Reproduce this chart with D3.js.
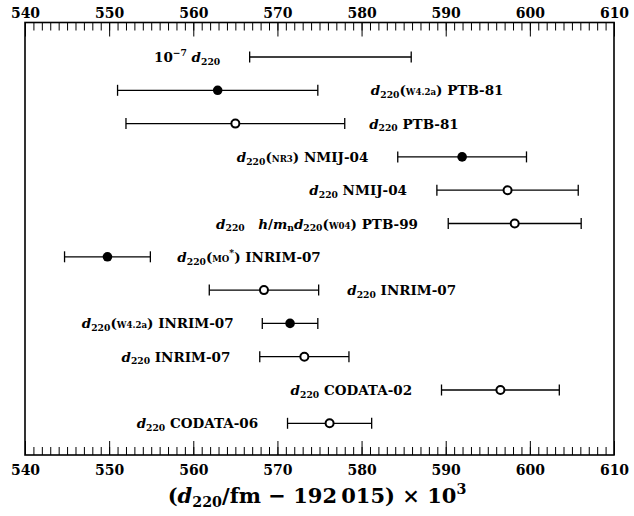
<!DOCTYPE html>
<html>
<head>
<meta charset="utf-8">
<script src="https://cdn.jsdelivr.net/npm/d3@7/dist/d3.min.js"></script>
<style>
  html, body { margin: 0; padding: 0; background: #fff; }
  svg text { font-family: "DejaVu Serif", "Liberation Serif", serif; font-weight: bold; fill: #000; }
</style>
</head>
<body>
<svg id="chart" width="634" height="516"></svg>
<script>
// ---- data ----
const labels = [
  "10^{−7} ~d~_{220}",
  "~d~_{220}(<W4.2a>) PTB-81",
  "~d~_{220} PTB-81",
  "~d~_{220}(<NR3>) NMIJ-04",
  "~d~_{220} NMIJ-04",
  "~d~_{220}\u2003~h~/~m~_{n}~d~_{220}(<W04>) PTB-99",
  "~d~_{220}(<MO^{*}>) INRIM-07",
  "~d~_{220} INRIM-07",
  "~d~_{220}(<W4.2a>) INRIM-07",
  "~d~_{220} INRIM-07",
  "~d~_{220} CODATA-02",
  "~d~_{220} CODATA-06"
];
const values = [576.3, 562.9, 565.0, 591.95, 597.35, 598.2, 549.8, 568.4, 571.5, 573.2, 596.5, 576.2];
const uncertainties = [9.6, 11.9, 13.0, 7.65, 8.4, 7.9, 5.1, 6.5, 3.3, 5.3, 7.0, 5.0];
const markers = ["none", "filled", "open", "filled", "open", "open", "filled", "open", "filled", "open", "open", "open"];
// label anchor (in data units) and which side of the anchor the text sits
const labelAt = [563.2, 581.1, 580.9, 580.8, 585.4, 586.7, 558.1, 578.3, 564.8, 564.4, 586.0, 567.7];
const labelAnchor = ["end", "start", "start", "end", "end", "end", "start", "start", "end", "end", "end", "end"];
const xDomain = [540, 610];
const majorTicks = [540, 550, 560, 570, 580, 590, 600, 610];
const minorTicks = d3.range(540, 611, 1);
const xTitle = "(~d~_{220}/fm − 192\u2009015) × 10^{3}";

// ---- layout ----
const svg = d3.select("#chart");
const frame = { left: 25, right: 614, top: 22.5, bottom: 455 };
const x = d3.scaleLinear().domain(xDomain).range([frame.left, frame.right]);
const y = d3.scaleLinear().domain([0, labels.length - 1]).range([57, 423.3]);

// mini markup parser: ~italic~, _{sub}, ^{sup}, <smallcaps>
function parse(str) {
  const segs = [];
  let italic = false, small = false, shift = 0, stack = [];
  let buf = "";
  const flush = () => { if (buf) { segs.push({ t: buf, italic, small, shift }); buf = ""; } };
  for (let i = 0; i < str.length; i++) {
    const c = str[i];
    if (c === "~") { flush(); italic = !italic; }
    else if (c === "<") { flush(); small = true; }
    else if (c === ">") { flush(); small = false; }
    else if ((c === "_" || c === "^") && str[i + 1] === "{") {
      flush(); stack.push(shift); shift = c === "_" ? shift + 1 : shift - 1; i++;
    }
    else if (c === "}") { flush(); shift = stack.pop(); }
    else buf += c;
  }
  flush();
  return segs;
}

function richText(sel, str, size) {
  const segs = parse(str);
  let cur = 0;
  segs.forEach(s => {
    const fs = s.shift !== 0 ? size * 0.68 : (s.small ? size * 0.64 : size);
    const target = s.shift > 0 ? size * 0.2 : (s.shift < 0 ? -size * 0.42 : 0);
    sel.append("tspan")
      .attr("font-size", fs)
      .attr("dy", target - cur)
      .attr("font-style", s.italic ? "italic" : "normal")
      .text(s.t);
    cur = target;
  });
}

// ---- frame ----
svg.append("rect")
  .attr("x", frame.left).attr("y", frame.top)
  .attr("width", frame.right - frame.left).attr("height", frame.bottom - frame.top)
  .attr("fill", "none").attr("stroke", "#000").attr("stroke-width", 1.6);

// ---- axes (ticks pointing inward) ----
function styleAxis(g) {
  g.select(".domain").remove();
  g.selectAll(".tick line").attr("stroke", "#000").attr("stroke-width", 1);
  g.selectAll(".tick text").attr("font-size", 14).attr("font-family", "DejaVu Serif").attr("font-weight", "bold").attr("fill", "#000");
}
svg.append("g").attr("transform", `translate(0,${frame.top})`)
  .call(d3.axisTop(x).tickValues(minorTicks).tickSizeInner(-8).tickSizeOuter(0).tickFormat(""))
  .call(styleAxis);
svg.append("g").attr("transform", `translate(0,${frame.top})`)
  .call(d3.axisTop(x).tickValues(majorTicks).tickSizeInner(-14).tickSizeOuter(0).tickPadding(5).tickFormat(d3.format("d")))
  .call(styleAxis);
svg.append("g").attr("transform", `translate(0,${frame.bottom})`)
  .call(d3.axisBottom(x).tickValues(minorTicks).tickSizeInner(-8).tickSizeOuter(0).tickFormat(""))
  .call(styleAxis);
svg.append("g").attr("transform", `translate(0,${frame.bottom})`)
  .call(d3.axisBottom(x).tickValues(majorTicks).tickSizeInner(-14).tickSizeOuter(0).tickPadding(10).tickFormat(d3.format("d")))
  .call(styleAxis);

// ---- error bars ----
const rows = labels.map((l, i) => ({ i, label: l, v: values[i], u: uncertainties[i], m: markers[i], lx: labelAt[i], la: labelAnchor[i] }));
const g = svg.append("g");
const row = g.selectAll("g.row").data(rows).join("g").attr("class", "row");
row.append("line")
  .attr("x1", d => x(d.v - d.u)).attr("x2", d => x(d.v + d.u))
  .attr("y1", d => y(d.i)).attr("y2", d => y(d.i))
  .attr("stroke", "#000").attr("stroke-width", 1.3);
row.append("line")
  .attr("x1", d => x(d.v - d.u)).attr("x2", d => x(d.v - d.u))
  .attr("y1", d => y(d.i) - 5.5).attr("y2", d => y(d.i) + 5.5)
  .attr("stroke", "#000").attr("stroke-width", 1.3);
row.append("line")
  .attr("x1", d => x(d.v + d.u)).attr("x2", d => x(d.v + d.u))
  .attr("y1", d => y(d.i) - 5.5).attr("y2", d => y(d.i) + 5.5)
  .attr("stroke", "#000").attr("stroke-width", 1.3);
row.filter(d => d.m !== "none").append("circle")
  .attr("cx", d => x(d.v)).attr("cy", d => y(d.i))
  .attr("r", d => d.m === "filled" ? 4.8 : 4.0)
  .attr("fill", d => d.m === "filled" ? "#000" : "#fff")
  .attr("stroke", "#000").attr("stroke-width", d => d.m === "filled" ? 0 : 2);

// ---- labels ----
row.each(function (d) {
  const t = d3.select(this).append("text")
    .attr("x", x(d.lx)).attr("y", y(d.i) + 5)
    .attr("text-anchor", d.la)
    .style("white-space", "pre");
  richText(t, d.label, 13.5);
});

// ---- x title ----
const tt = svg.append("text").attr("x", 317).attr("y", 503).attr("text-anchor", "middle").style("white-space", "pre");
richText(tt, xTitle, 21);
</script>
</body>
</html>
